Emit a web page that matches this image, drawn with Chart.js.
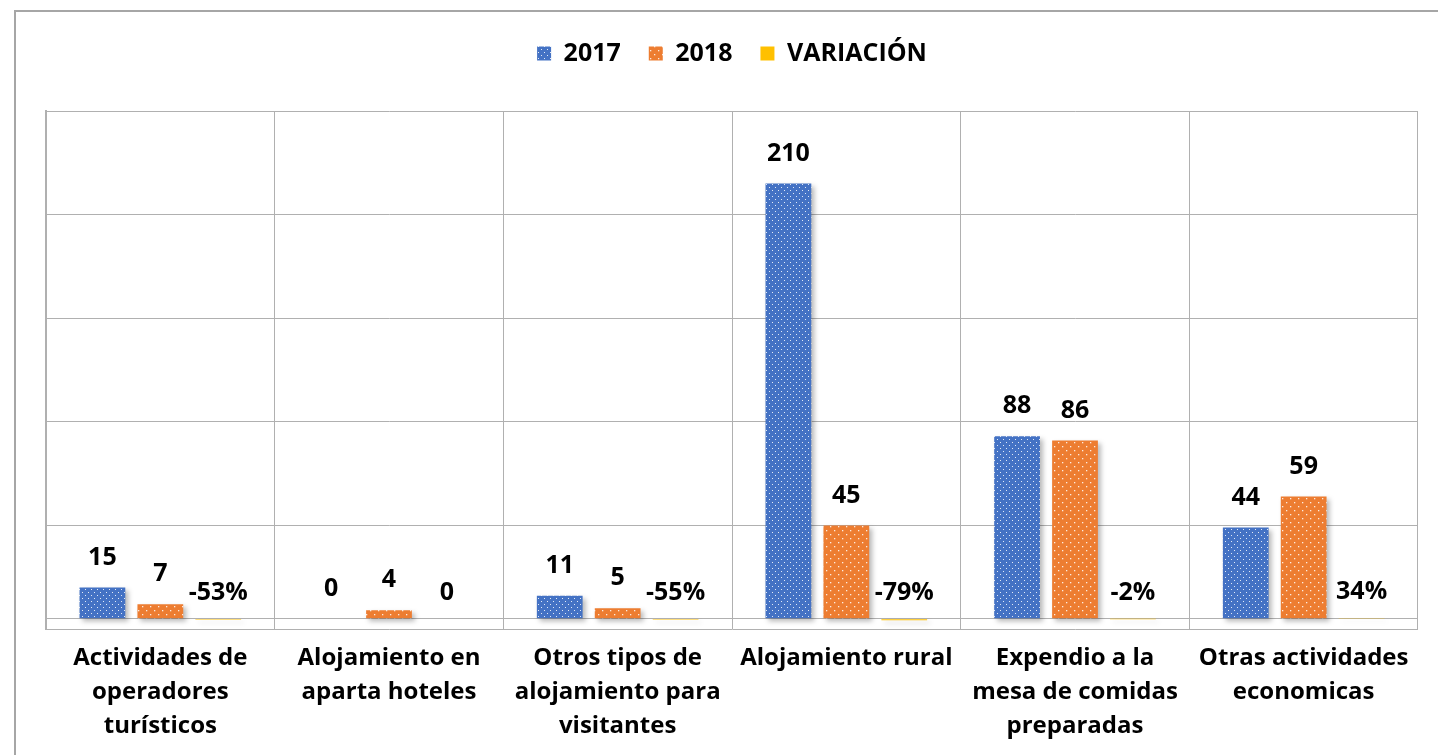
<!DOCTYPE html>
<html>
<head>
<meta charset="utf-8">
<script src="https://cdn.jsdelivr.net/npm/chart.js@4.4.1/dist/chart.umd.min.js"></script>
<style>
  html, body { margin: 0; padding: 0; background: #fff; overflow: hidden; }
  #frame { position: absolute; left: 14px; top: 10px; width: 1440px; height: 760px; border: 2px solid #a6a6a6; box-sizing: border-box; }
  #wrap { position: absolute; left: 0; top: 0; width: 1438px; height: 755px; }
</style>
</head>
<body>
<div id="frame"></div>
<div id="wrap"><canvas id="chart"></canvas></div>
<script>
// categories and values
const categories = [
    ['Actividades de', 'operadores', 'turísticos'],
    ['Alojamiento en', 'aparta hoteles'],
    ['Otros tipos de', 'alojamiento para', 'visitantes'],
    ['Alojamiento rural'],
    ['Expendio a la', 'mesa de comidas', 'preparadas'],
    ['Otras actividades', 'economicas']
];
const values2017 = [15, 0, 11, 210, 88, 44];
const values2018 = [7, 4, 5, 45, 86, 59];
const variacion = [-0.53, 0, -0.55, -0.79, -0.02, 0.34];
const yTicks = [-5, 0, 45, 95, 145, 195, 245];

const FONT = '"Open Sans", "Liberation Sans", sans-serif';

// dotted fill like the office pattern
function dots(bg, size, pts, r) {
    const c = document.createElement('canvas');
    c.width = size; c.height = size;
    const g = c.getContext('2d');
    g.fillStyle = bg;
    g.fillRect(0, 0, size, size);
    g.fillStyle = 'rgba(255,255,255,0.85)';
    pts.forEach(p => g.fillRect(p[0], p[1], r, r));
    return g.createPattern(c, 'repeat');
}
const bluePat = dots('#4472C4', 6, [[1, 1], [4, 4]], 1);
const orangePat = dots('#ED7D31', 8, [[2, 2], [6, 6]], 1.3);

// extra room under the legend
const legendGap = {
    id: 'legendGap',
    beforeInit(chart) {
        const fit = chart.legend.fit;
        chart.legend.fit = function () {
            fit.bind(chart.legend)();
            this.height += 35;
        };
    }
};

const shadowPlugin = {
    id: 'barShadow',
    beforeDatasetsDraw(chart) {
        const ctx = chart.ctx;
        ctx.save();
        ctx.shadowColor = 'rgba(0,0,0,0.28)';
        ctx.shadowBlur = 5;
        ctx.shadowOffsetX = 3;
        ctx.shadowOffsetY = 3;
    },
    afterDatasetsDraw(chart) {
        chart.ctx.restore();
    }
};

const valueLabels = {
    id: 'valueLabels',
    afterDatasetsDraw(chart) {
        const ctx = chart.ctx;
        ctx.save();
        ctx.font = 'bold 25px ' + FONT;
        ctx.fillStyle = '#000';
        ctx.textAlign = 'center';
        ctx.textBaseline = 'middle';
        chart.data.datasets.forEach((ds, i) => {
            const meta = chart.getDatasetMeta(i);
            meta.data.forEach((el, j) => {
                const v = ds.data[j];
                let txt = String(v);
                let off = 30;
                if (i === 2) {
                    txt = v === 0 ? '0' : Math.round(v * 100) + '%';
                    off = 26;
                }
                ctx.fillText(txt, el.x, Math.min(el.y, el.base) - off);
            });
        });
        ctx.restore();
    }
};

new Chart(document.getElementById('chart'), {
    type: 'bar',
    data: {
        labels: categories,
        datasets: [
            { label: '2017', data: values2017, backgroundColor: bluePat },
            { label: '2018', data: values2018, backgroundColor: orangePat },
            { label: 'VARIACIÓN', data: variacion, backgroundColor: '#FFC000' }
        ]
    },
    options: {
        responsive: true,
        maintainAspectRatio: false,
        animation: false,
        layout: { padding: { left: 46, right: 20, top: 13, bottom: 0 } },
        datasets: { bar: { categoryPercentage: 0.76, barPercentage: 0.79 } },
        plugins: {
            tooltip: { enabled: false },
            legend: {
                position: 'top',
                labels: {
                    color: '#000',
                    font: { family: FONT, size: 25, weight: 'bold' },
                    boxWidth: 14,
                    boxHeight: 14,
                    padding: 28
                }
            }
        },
        scales: {
            x: {
                grid: { color: '#b0b0b0', lineWidth: 1, offset: true, drawTicks: false },
                border: { display: false },
                ticks: {
                    color: '#000',
                    font: { family: FONT, size: 24, weight: 'bold', lineHeight: 1.42 },
                    maxRotation: 0,
                    autoSkip: false,
                    padding: 12
                },
                afterFit(s) { s.height = 126; }
            },
            y: {
                min: -5,
                max: 245,
                afterBuildTicks(s) { s.ticks = yTicks.map(v => ({ value: v })); },
                grid: { color: '#b0b0b0', lineWidth: 1, drawTicks: false },
                border: { display: true, color: '#b0b0b0', width: 2 },
                ticks: { display: false },
                afterFit(s) { s.width = 0; }
            }
        }
    },
    plugins: [legendGap, shadowPlugin, valueLabels]
});
</script>
</body>
</html>
